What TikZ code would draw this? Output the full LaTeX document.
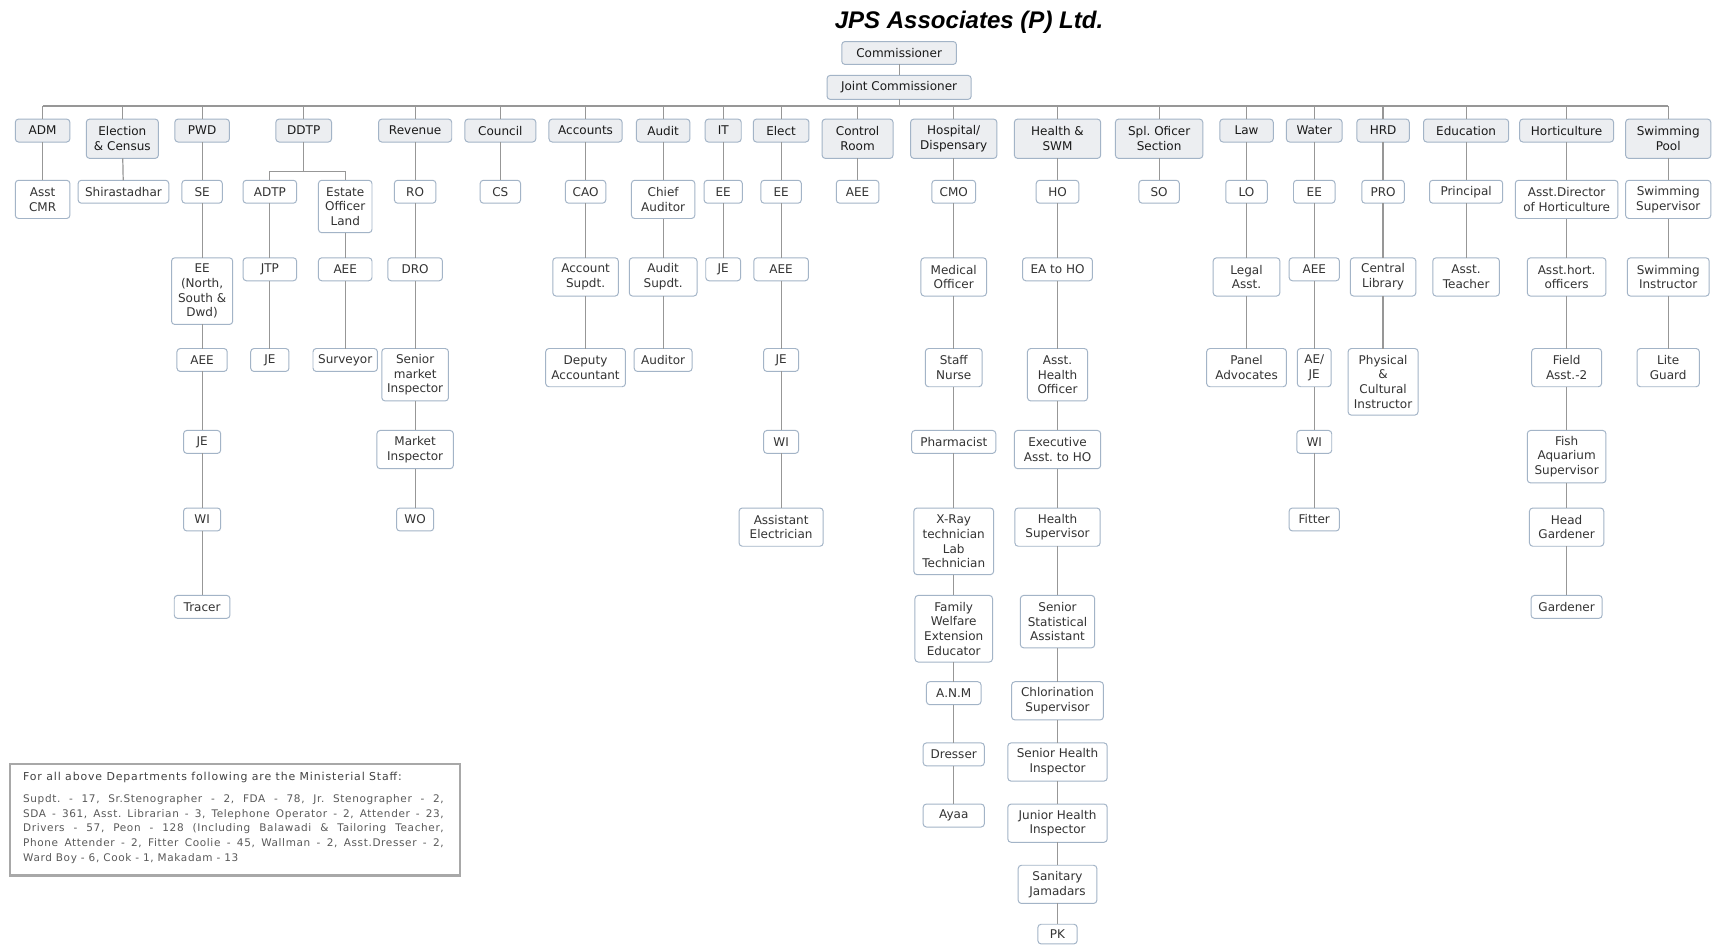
\documentclass[tikz,border=0pt]{standalone}
\usepackage{fontspec}
\setmainfont{DejaVu Sans}
\newfontfamily\titlefont{Liberation Sans}
\newfontfamily\notetfont[LetterSpace=8]{DejaVu Sans}
\newfontfamily\notebfont[LetterSpace=6]{DejaVu Sans}
\definecolor{bordc}{HTML}{A3B4C7}
\definecolor{deptfill}{HTML}{ECEEF1}
\definecolor{linec}{HTML}{979797}
\definecolor{txtc}{HTML}{333333}
\definecolor{notec}{HTML}{A8A8A8}
\newcommand\boxfont{\fontsize{11}{13.5}\selectfont}
\frenchspacing
\begin{document}
\begin{tikzpicture}[x=1pt,y=-1pt,
  basebox/.style={draw=bordc, line width=0.9pt, rounded corners=3pt, anchor=north, align=center,
     inner sep=2pt, outer sep=0pt, font=\boxfont, text=txtc},
  deptbox/.style={basebox, fill=deptfill, text=black!90},
  subbox/.style={basebox, fill=white},
  conn/.style={draw=linec, line width=1.1pt}]
\useasboundingbox (0,0) rectangle (1568,865);
\fill[white] (0,0) rectangle (1568,865);

% title
\node[anchor=base, font=\titlefont\fontsize{22}{24}\selectfont\bfseries\itshape, inner sep=0] (title) at (887,26) {JPS Associates (P) Ltd.};

% top
\node[deptbox, minimum width=105pt, minimum height=21pt] (com) at (823,38) {Commissioner};
\node[deptbox, minimum width=132pt, minimum height=22pt] (jc) at (823,69) {Joint Commissioner};

% departments
\node[deptbox, minimum width=50pt, minimum height=21pt] (adm) at (39,109) {ADM};
\node[deptbox, minimum width=66pt, minimum height=36pt] (elec) at (112,109) {Election\\\& Census};
\node[deptbox, minimum width=50pt, minimum height=21pt] (pwd) at (185,109) {PWD};
\node[deptbox, minimum width=51pt, minimum height=21pt] (ddtp) at (278,109) {DDTP};
\node[deptbox, minimum width=67pt, minimum height=21pt] (rev) at (380,109) {Revenue};
\node[deptbox, minimum width=65pt, minimum height=21pt] (cou) at (458,109) {Council};
\node[deptbox, minimum width=67pt, minimum height=21pt] (acc) at (536,109) {Accounts};
\node[deptbox, minimum width=49pt, minimum height=21pt] (aud) at (607,109) {Audit};
\node[deptbox, minimum width=33pt, minimum height=21pt] (it) at (662,109) {IT};
\node[deptbox, minimum width=51pt, minimum height=21pt] (elc) at (715,109) {Elect};
\node[deptbox, minimum width=65pt, minimum height=36pt] (ctl) at (785,109) {Control\\Room};
\node[deptbox, minimum width=79pt, minimum height=36pt] (hos) at (873,109) {Hospital/\\Dispensary};
\node[deptbox, minimum width=79pt, minimum height=36pt] (hlt) at (968,109) {Health \&\\SWM};
\node[deptbox, minimum width=80pt, minimum height=36pt] (spl) at (1061,109) {Spl. Oficer\\Section};
\node[deptbox, minimum width=49pt, minimum height=21pt] (law) at (1141,109) {Law};
\node[deptbox, minimum width=51pt, minimum height=21pt] (wat) at (1203,109) {Water};
\node[deptbox, minimum width=48pt, minimum height=21pt] (hrd) at (1266,109) {HRD};
\node[deptbox, minimum width=78pt, minimum height=21pt] (edu) at (1342,109) {Education};
\node[deptbox, minimum width=86pt, minimum height=21pt] (hor) at (1434,109) {Horticulture};
\node[deptbox, minimum width=78pt, minimum height=36pt] (swm) at (1527,109) {Swimming\\Pool};

% level 2
\node[subbox, minimum width=50pt, minimum height=35pt] (acmr) at (39,165) {Asst\\CMR};
\node[subbox, minimum width=83pt, minimum height=21pt] (shir) at (113,165) {Shirastadhar};
\node[subbox, minimum width=37pt, minimum height=21pt] (se) at (185,165) {SE};
\node[subbox, minimum width=49pt, minimum height=21pt] (adtp) at (247,165) {ADTP};
\node[subbox, minimum width=49pt, minimum height=48pt] (eol) at (316,165) {Estate\\Officer\\Land};
\node[subbox, minimum width=38pt, minimum height=21pt] (ro) at (380,165) {RO};
\node[subbox, minimum width=37pt, minimum height=21pt] (cs) at (458,165) {CS};
\node[subbox, minimum width=37pt, minimum height=21pt] (cao) at (536,165) {CAO};
\node[subbox, minimum width=58pt, minimum height=35pt] (chaud) at (607,165) {Chief\\Auditor};
\node[subbox, minimum width=35pt, minimum height=21pt] (itee) at (662,165) {EE};
\node[subbox, minimum width=37pt, minimum height=21pt] (elee) at (715,165) {EE};
\node[subbox, minimum width=39pt, minimum height=21pt] (ctaee) at (785,165) {AEE};
\node[subbox, minimum width=40pt, minimum height=21pt] (cmo) at (873,165) {CMO};
\node[subbox, minimum width=39pt, minimum height=21pt] (ho) at (968,165) {HO};
\node[subbox, minimum width=37pt, minimum height=21pt] (so) at (1061,165) {SO};
\node[subbox, minimum width=38pt, minimum height=21pt] (lo) at (1141,165) {LO};
\node[subbox, minimum width=38pt, minimum height=21pt] (wee) at (1203,165) {EE};
\node[subbox, minimum width=39pt, minimum height=21pt] (pro) at (1266,165) {PRO};
\node[subbox, minimum width=67pt, minimum height=21pt] (prin) at (1342,165) {Principal};
\node[subbox, minimum width=94pt, minimum height=35pt] (adh) at (1434,165) {Asst.Director\\of Horticulture};
\node[subbox, minimum width=78pt, minimum height=35pt] (sws) at (1527,165) {Swimming\\Supervisor};

% level 3
\node[subbox, minimum width=56pt, minimum height=61pt] (eens) at (185,236) {EE\\(North,\\South \&\\Dwd)};
\node[subbox, minimum width=49pt, minimum height=21pt] (jtp) at (247,236) {JTP};
\node[subbox, minimum width=49pt, minimum height=21pt] (daee) at (316,236) {AEE};
\node[subbox, minimum width=50pt, minimum height=21pt] (dro) at (380,236) {DRO};
\node[subbox, minimum width=60pt, minimum height=35pt] (accs) at (536,236) {Account\\Supdt.};
\node[subbox, minimum width=62pt, minimum height=35pt] (auds) at (607,236) {Audit\\Supdt.};
\node[subbox, minimum width=32pt, minimum height=21pt] (itje) at (662,236) {JE};
\node[subbox, minimum width=50pt, minimum height=21pt] (elaee) at (715,236) {AEE};
\node[subbox, minimum width=60pt, minimum height=35pt] (mo) at (873,236) {Medical\\Officer};
\node[subbox, minimum width=64pt, minimum height=21pt] (eaho) at (968,236) {EA to HO};
\node[subbox, minimum width=61pt, minimum height=35pt] (lega) at (1141,236) {Legal\\Asst.};
\node[subbox, minimum width=46pt, minimum height=21pt] (waee) at (1203,236) {AEE};
\node[subbox, minimum width=60pt, minimum height=35pt] (clib) at (1266,236) {Central\\Library};
\node[subbox, minimum width=61pt, minimum height=35pt] (atch) at (1342,236) {Asst.\\Teacher};
\node[subbox, minimum width=72pt, minimum height=35pt] (aho) at (1434,236) {Asst.hort.\\officers};
\node[subbox, minimum width=75pt, minimum height=35pt] (swi) at (1527,236) {Swimming\\Instructor};

% level 4
\node[subbox, minimum width=46pt, minimum height=21pt] (paee) at (185,319) {AEE};
\node[subbox, minimum width=35pt, minimum height=21pt] (dje) at (247,319) {JE};
\node[subbox, minimum width=59pt, minimum height=21pt] (surv) at (316,319) {Surveyor};
\node[subbox, minimum width=61pt, minimum height=48pt] (smi) at (380,319) {Senior\\market\\Inspector};
\node[subbox, minimum width=73pt, minimum height=35pt] (dacc) at (536,319) {Deputy\\Accountant};
\node[subbox, minimum width=53pt, minimum height=21pt] (audr) at (607,319) {Auditor};
\node[subbox, minimum width=32pt, minimum height=21pt] (elje) at (715,319) {JE};
\node[subbox, minimum width=52pt, minimum height=35pt] (sn) at (873,319) {Staff\\Nurse};
\node[subbox, minimum width=55pt, minimum height=48pt] (aheo) at (968,319) {Asst.\\Health\\Officer};
\node[subbox, minimum width=73pt, minimum height=35pt] (padv) at (1141,319) {Panel\\Advocates};
\node[subbox, minimum width=31pt, minimum height=35pt] (aeje) at (1203,319) {AE/\\JE};
\node[subbox, minimum width=64pt, minimum height=61pt] (pci) at (1266,319) {Physical\\\&\\Cultural\\Instructor};
\node[subbox, minimum width=64pt, minimum height=35pt] (fa2) at (1434,319) {Field\\Asst.-2};
\node[subbox, minimum width=57pt, minimum height=35pt] (lg) at (1527,319) {Lite\\Guard};

% level 5
\node[subbox, minimum width=34pt, minimum height=21pt] (pje) at (185,394) {JE};
\node[subbox, minimum width=70pt, minimum height=35pt] (mi) at (380,394) {Market\\Inspector};
\node[subbox, minimum width=32pt, minimum height=21pt] (elwi) at (715,394) {WI};
\node[subbox, minimum width=77pt, minimum height=21pt] (phar) at (873,394) {Pharmacist};
\node[subbox, minimum width=79pt, minimum height=35pt] (eah) at (968,394) {Executive\\Asst. to HO};
\node[subbox, minimum width=32pt, minimum height=21pt] (wwi) at (1203,394) {WI};
\node[subbox, minimum width=72pt, minimum height=48pt] (fas) at (1434,394) {Fish\\Aquarium\\Supervisor};

% level 6
\node[subbox, minimum width=34pt, minimum height=21pt] (pwi) at (185,465) {WI};
\node[subbox, minimum width=34pt, minimum height=21pt] (wo) at (380,465) {WO};
\node[subbox, minimum width=77pt, minimum height=35pt] (aele) at (715,465) {Assistant\\Electrician};
\node[subbox, minimum width=73pt, minimum height=61pt] (xray) at (873,465) {X-Ray\\technician\\Lab\\Technician};
\node[subbox, minimum width=78pt, minimum height=35pt] (hsup) at (968,465) {Health\\Supervisor};
\node[subbox, minimum width=46pt, minimum height=21pt] (fit) at (1203,465) {Fitter};
\node[subbox, minimum width=68pt, minimum height=35pt] (hg) at (1434,465) {Head\\Gardener};

% level 7
\node[subbox, minimum width=51pt, minimum height=21pt] (trac) at (185,545) {Tracer};
\node[subbox, minimum width=71pt, minimum height=61pt] (fwee) at (873,545) {Family\\Welfare\\Extension\\Educator};
\node[subbox, minimum width=68pt, minimum height=48pt] (ssa) at (968,545) {Senior\\Statistical\\Assistant};
\node[subbox, minimum width=65pt, minimum height=21pt] (gard) at (1434,545) {Gardener};

% level 8-12
\node[subbox, minimum width=50pt, minimum height=21pt] (anm) at (873,624) {A.N.M};
\node[subbox, minimum width=84pt, minimum height=35pt] (chl) at (968,624) {Chlorination\\Supervisor};
\node[subbox, minimum width=56pt, minimum height=21pt] (dres) at (873,680) {Dresser};
\node[subbox, minimum width=91pt, minimum height=35pt] (shi) at (968,680) {Senior Health\\Inspector};
\node[subbox, minimum width=56pt, minimum height=21pt] (ayaa) at (873,736) {Ayaa};
\node[subbox, minimum width=91pt, minimum height=35pt] (jhi) at (968,736) {Junior Health\\Inspector};
\node[subbox, minimum width=72pt, minimum height=35pt] (sj) at (968,792) {Sanitary\\Jamadars};
\node[subbox, minimum width=36pt, minimum height=18pt] (pk) at (968,846) {PK};

% connectors
\coordinate (busL) at (39,97);
\coordinate (busR) at (1527,97);
\draw[conn] (com) -- (jc);
\draw[conn] (jc.south) -- (jc.south |- busL);
\draw[conn] (busL) -- (busR);
\foreach \d in {adm,elec,pwd,ddtp,rev,cou,acc,aud,it,elc,ctl,hos,hlt,spl,law,wat,hrd,edu,hor,swm}
  \draw[conn] (\d.north) -- (\d.north |- busL);
\coordinate (dj) at (278,157);
\draw[conn] (ddtp.south) -- (dj);
\draw[conn] (adtp.north) |- (dj) -| (eol.north);
\foreach \a/\b in {adm/acmr, elec/shir,
  pwd/se, se/eens, eens/paee, paee/pje, pje/pwi, pwi/trac,
  adtp/jtp, jtp/dje, eol/daee, daee/surv,
  rev/ro, ro/dro, dro/smi, smi/mi, mi/wo,
  cou/cs, acc/cao, cao/accs, accs/dacc,
  aud/chaud, chaud/auds, auds/audr,
  it/itee, itee/itje,
  elc/elee, elee/elaee, elaee/elje, elje/elwi, elwi/aele,
  ctl/ctaee,
  hos/cmo, cmo/mo, mo/sn, sn/phar, phar/xray, xray/fwee, fwee/anm, anm/dres, dres/ayaa,
  hlt/ho, ho/eaho, eaho/aheo, aheo/eah, eah/hsup, hsup/ssa, ssa/chl, chl/shi, shi/jhi, jhi/sj, sj/pk,
  spl/so, law/lo, lo/lega, lega/padv,
  wat/wee, wee/waee, waee/aeje, aeje/wwi, wwi/fit,
  hrd/pro, pro/clib, clib/pci,
  edu/prin, prin/atch,
  hor/adh, adh/aho, aho/fa2, fa2/fas, fas/hg, hg/gard,
  swm/sws, sws/swi, swi/lg}
  \draw[conn] (\a) -- (\b);

% note box
\node[draw=notec, line width=2.4pt, fill=white, anchor=north west, minimum width=412pt, minimum height=102pt, inner sep=0pt] (note) at (8,698) {};
\node[anchor=base west, inner sep=0pt, font=\notetfont\fontsize{10}{11}\selectfont, text=black!75] (notetitle) at (21,714) {For all above Departments following are the Ministerial Staff:};
\node[anchor=north west, inner sep=0pt, align=left, font=\notebfont\fontsize{9.6}{13.5}\selectfont, text=black!65] (notebody) at (21,727) {%
\makebox[385pt][s]{Supdt. - 17, Sr.Stenographer - 2, FDA - 78, Jr. Stenographer - 2,}\\
\makebox[385pt][s]{SDA - 361, Asst. Librarian - 3, Telephone Operator - 2, Attender - 23,}\\
\makebox[385pt][s]{Drivers - 57, Peon - 128 (Including Balawadi \& Tailoring Teacher,}\\
\makebox[385pt][s]{Phone Attender - 2, Fitter Coolie - 45, Wallman - 2, Asst.Dresser - 2,}\\
Ward Boy - 6, Cook - 1, Makadam - 13};
\end{tikzpicture}
\end{document}
